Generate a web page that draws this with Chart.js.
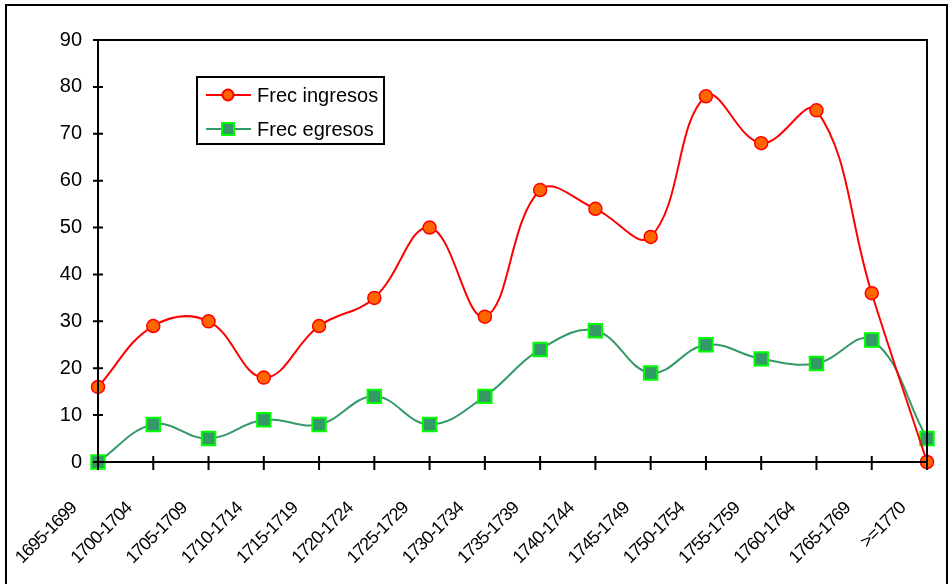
<!DOCTYPE html>
<html>
<head>
<meta charset="utf-8">
<script src="https://cdn.jsdelivr.net/npm/chart.js@4"></script>
<style>
html,body{margin:0;padding:0;background:#fff;}
#wrap{width:952px;height:584px;position:relative;}
</style>
</head>
<body>
<div id="wrap"><canvas id="c" width="952" height="584"></canvas></div>
<script>
const categories = ["1695-1699","1700-1704","1705-1709","1710-1714","1715-1719","1720-1724","1725-1729","1730-1734","1735-1739","1740-1744","1745-1749","1750-1754","1755-1759","1760-1764","1765-1769",">=1770"];
const ingresos = [16,29,30,18,29,35,50,31,58,54,48,78,68,75,36,0];
const egresos  = [0,8,5,9,8,14,8,14,24,28,19,25,22,21,26,5];
const yTicks = [0,10,20,30,40,50,60,70,80,90];

const FONT = "'Liberation Sans', Arial, sans-serif";

const framePlugin = {
  id: 'frame',
  afterDraw(chart) {
    const ctx = chart.ctx;
    const a = chart.chartArea;
    const xs = chart.scales.x, ys = chart.scales.y;
    ctx.save();
    ctx.strokeStyle = '#000';
    ctx.lineWidth = 2;
    ctx.strokeRect(6, 5, 941, 590);
    ctx.strokeRect(a.left, a.top, a.right - a.left, a.bottom - a.top);
    ctx.beginPath();
    ys.ticks.forEach((t, i) => {
      const y = ys.getPixelForTick(i);
      ctx.moveTo(a.left - 5, y); ctx.lineTo(a.left + 5, y);
    });
    xs.ticks.forEach((t, i) => {
      const x = xs.getPixelForTick(i);
      ctx.moveTo(x, a.bottom - 6); ctx.lineTo(x, a.bottom + 8);
    });
    ctx.stroke();
    ctx.restore();
  },
  afterDatasetsDraw(chart) {
    const ctx = chart.ctx;
    ctx.save();
    const bx = 197, by = 77, bw = 187, bh = 67;
    ctx.fillStyle = '#fff';
    ctx.fillRect(bx, by, bw, bh);
    ctx.strokeStyle = '#000';
    ctx.lineWidth = 2;
    ctx.strokeRect(bx, by, bw, bh);
    const rows = [95, 129];
    chart.data.datasets.forEach((ds, i) => {
      const y = rows[i];
      ctx.strokeStyle = ds.borderColor;
      ctx.lineWidth = 2;
      ctx.beginPath(); ctx.moveTo(206, y); ctx.lineTo(251, y); ctx.stroke();
      ctx.fillStyle = ds.pointBackgroundColor;
      ctx.strokeStyle = ds.pointBorderColor;
      ctx.lineWidth = 2;
      if (ds.pointStyle === 'rect') {
        ctx.fillRect(222, y - 6, 12, 12);
        ctx.strokeRect(222, y - 6, 12, 12);
      } else {
        ctx.beginPath(); ctx.arc(228, y, 5.5, 0, Math.PI * 2); ctx.fill(); ctx.stroke();
      }
      ctx.fillStyle = '#000';
      ctx.font = '20px ' + FONT;
      ctx.textBaseline = 'middle';
      ctx.textAlign = 'left';
      ctx.fillText(ds.label, 257, y + 1);
    });
    ctx.restore();
  }
};

new Chart(document.getElementById('c'), {
  type: 'line',
  data: {
    labels: categories,
    datasets: [
      {
        label: 'Frec ingresos',
        data: ingresos,
        borderColor: '#FF0000',
        borderWidth: 2,
        pointStyle: 'circle',
        pointRadius: 6.5,
        pointBackgroundColor: '#FF6600',
        pointBorderColor: '#FF0000',
        pointBorderWidth: 1.5,
        tension: 0.4,
        clip: false
      },
      {
        label: 'Frec egresos',
        data: egresos,
        borderColor: '#339966',
        borderWidth: 2,
        pointStyle: 'rect',
        pointRadius: 9.5,
        pointBackgroundColor: '#339966',
        pointBorderColor: '#00FF00',
        pointBorderWidth: 2,
        tension: 0.4,
        clip: false
      }
    ]
  },
  options: {
    responsive: false,
    animation: false,
    devicePixelRatio: 1,
    layout: { padding: { left: 0, top: 40, right: 25, bottom: 0 } },
    plugins: { legend: { display: false }, tooltip: { enabled: false } },
    scales: {
      x: {
        type: 'category',
        offset: false,
        grid: { display: false },
        border: { display: true, color: '#000', width: 2 },
        ticks: {
          color: '#000',
          font: { family: FONT, size: 18 },
          minRotation: 45,
          maxRotation: 45,
          autoSkip: false,
          padding: 28,
          labelOffset: -24
        },
        afterFit(s) {
          s.height = 122; s.paddingLeft = 0; s.paddingRight = 0;
          if (!s._lsWrapped) {
            const orig = s.drawLabels.bind(s);
            s.drawLabels = function(area) {
              const ctx = s.ctx;
              ctx.save();
              ctx.letterSpacing = '-0.9px';
              orig(area);
              ctx.restore();
            };
            s._lsWrapped = true;
          }
        }
      },
      y: {
        min: 0,
        max: 90,
        afterBuildTicks(s) { s.ticks = yTicks.map(v => ({ value: v })); },
        grid: { display: false },
        border: { display: true, color: '#000', width: 2 },
        ticks: {
          color: '#000',
          font: { family: FONT, size: 20 },
          padding: 8
        },
        afterFit(s) { s.width = 98; s.paddingTop = 0; s.paddingBottom = 0; }
      }
    }
  },
  plugins: [framePlugin]
});
</script>
</body>
</html>
